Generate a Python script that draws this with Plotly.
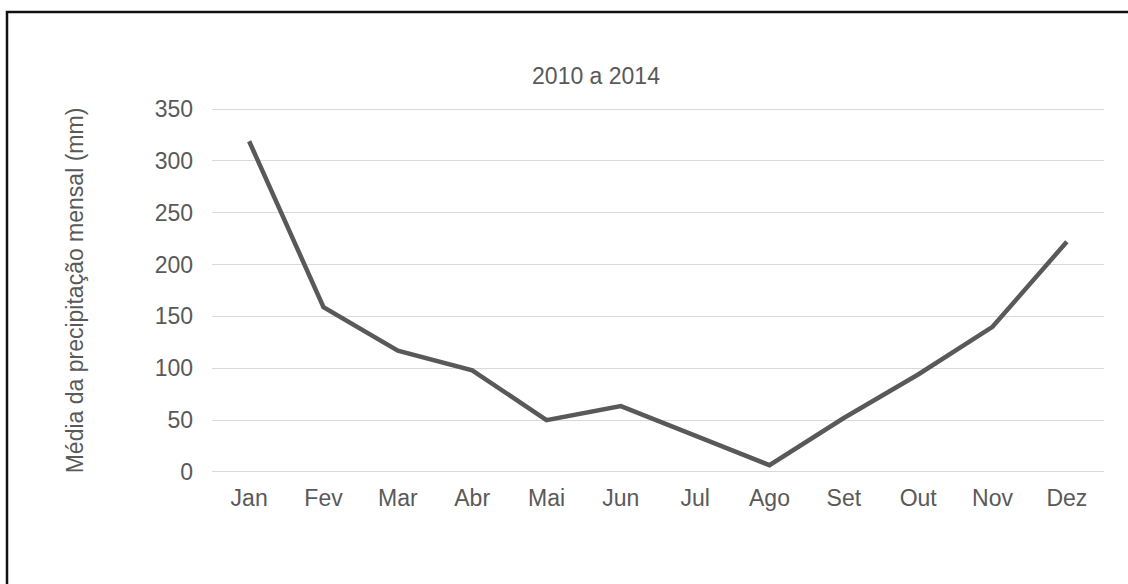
import plotly.graph_objects as go

months = ["Jan", "Fev", "Mar", "Abr", "Mai", "Jun", "Jul", "Ago", "Set", "Out", "Nov", "Dez"]
precip = [319, 159, 117, 98, 50, 63.5, 35, 6.5, 52, 94, 140, 222]
y_ticks = [0, 50, 100, 150, 200, 250, 300, 350]

W, H = 1128, 584
L, R, T, B = 212, 24, 107, 110
pw, ph = W - L - R, H - T - B

font_family = "Liberation Sans, Arial, sans-serif"
txt_color = "#595959"

fig = go.Figure(go.Scatter(
    x=months, y=precip, mode="lines",
    line=dict(color="#595959", width=4.5),
    hoverinfo="skip",
))

fig.update_layout(
    width=W, height=H,
    margin=dict(l=L, r=R, t=T, b=B),
    paper_bgcolor="white", plot_bgcolor="white",
    showlegend=False,
    font=dict(family=font_family, color=txt_color, size=23),
    title=dict(text="2010 a 2014", x=(596 - L) / pw, xref="paper", xanchor="center",
               y=1 - 76 / H, yanchor="middle", yref="container",
               font=dict(size=23, color=txt_color)),
    xaxis=dict(range=[-0.5, 11.5], showgrid=False, zeroline=False, showline=False, ticks="",
               tickfont=dict(size=23, color=txt_color), ticklabelstandoff=8),
    yaxis=dict(range=[-2, 352], tickvals=y_ticks, showgrid=True, gridcolor="#d9d9d9", gridwidth=1,
               zeroline=False, showline=False, ticks="", tickfont=dict(size=23, color=txt_color),
               ticklabelstandoff=18,
               title=dict(text="Média da precipitação mensal (mm)", standoff=64,
                          font=dict(size=23, color=txt_color))),
    shapes=[dict(type="rect", xref="paper", yref="paper",
                 x0=(7 - L) / pw, x1=(1300 - L) / pw,
                 y0=-(700 - T - ph) / ph, y1=(T + ph - 12) / ph,
                 line=dict(color="#111111", width=2.5), fillcolor="rgba(0,0,0,0)", layer="above")],
)

fig.write_html("out.html")
